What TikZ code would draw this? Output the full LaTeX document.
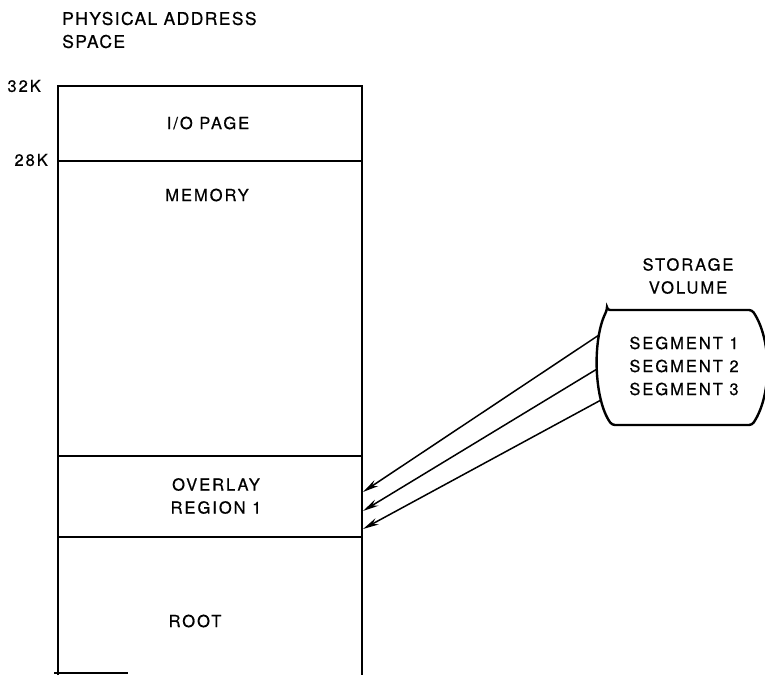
\documentclass[tikz,border=0pt]{standalone}
\usepackage{fontspec}
\setmainfont{TeX Gyre Heros}[LetterSpace=12,FakeBold=0.6]
\newfontfamily\titlefont{TeX Gyre Heros}[LetterSpace=8,FakeBold=0.6]
\usetikzlibrary{arrows.meta}
\begin{document}
\begin{tikzpicture}[x=1pt,y=-1pt,
  lbl/.style={font=\fontsize{16.5}{23}\selectfont, align=center, inner sep=0pt},
  big/.style={font=\titlefont\fontsize{17.5}{23}\selectfont, align=left, inner sep=0pt},
  outer/.style={line width=2.4pt},
  sep/.style={line width=1.7pt},
  conn/.style={-{Stealth[length=16pt,width=7pt]}, line width=1.5pt}]
\useasboundingbox (0,0) rectangle (765,675);
% physical address space
\draw[outer] (58,675) -- (58,86) -- (362,86) -- (362,675);
\draw[sep] (58,161) -- (362,161);
\draw[sep] (58,456) -- (362,456);
\draw[sep] (58,537) -- (362,537);
\draw[sep] (54,673) -- (128,673);
\node[big, anchor=west] (title) at (62,30) {PHYSICAL ADDRESS\\SPACE};
\node[lbl, anchor=east] (k32) at (41,86) {32K};
\node[lbl, anchor=east] (k28) at (48,160) {28K};
\node[lbl] (io) at (208,123) {I/O PAGE};
\node[lbl] (mem) at (207,195) {MEMORY};
\node[lbl] (ovl) at (216,496) {OVERLAY\\REGION 1};
\node[lbl] (root) at (195,621) {ROOT};
% storage volume
\draw[outer, rounded corners=3pt] (607,310) -- (752,310) .. controls (772,340) and (772,395) .. (752,425) -- (612,425) .. controls (594,400) and (592,340) .. (607,310) -- cycle;
\node[lbl] (svlbl) at (688,276) {STORAGE\\VOLUME};
\node[lbl] (segs) at (684,366) {SEGMENT 1\\SEGMENT 2\\SEGMENT 3};
\coordinate (s1) at (599,335);
\coordinate (s2) at (597,369);
\coordinate (s3) at (601,400);
\coordinate (t1) at (363,492);
\coordinate (t2) at (363,511);
\coordinate (t3) at (363,529);
\draw[conn] (s1) -- (t1);
\draw[conn] (s2) -- (t2);
\draw[conn] (s3) -- (t3);
\end{tikzpicture}
\end{document}
